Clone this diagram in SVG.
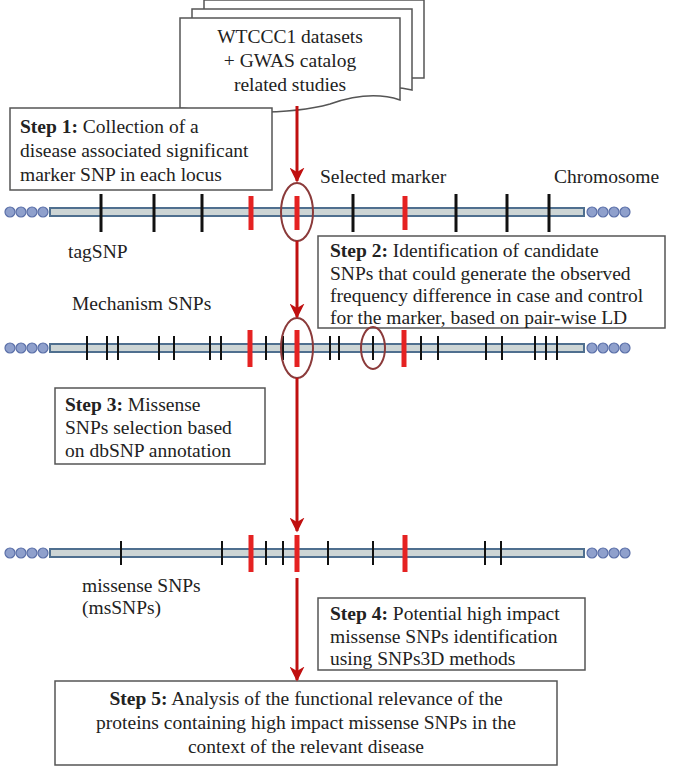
<svg xmlns="http://www.w3.org/2000/svg" width="678" height="779" viewBox="0 0 678 779" font-family="'Liberation Serif','Times New Roman','DejaVu Serif',serif">
<style>
text{font-family:"Liberation Serif","Times New Roman","DejaVu Serif",serif;font-size:19.5px;fill:#222}
.box{fill:#fff;stroke:#555;stroke-width:1.5}
.bar{fill:#cdd5d5;stroke:#4f6f8f;stroke-width:2}
.dot{fill:#8fa0cc;stroke:#5a6fa8;stroke-width:1.2}
.tk{stroke:#111;stroke-width:3}
.tks{stroke:#111;stroke-width:2}
.rd{stroke:#e52222;stroke-width:5}
.ell{fill:none;stroke:#8b3a3a;stroke-width:2}
.arr{stroke:#c01010;stroke-width:3;fill:none}
</style>
<defs>
<marker id="ah" viewBox="0 0 10 10" refX="9" refY="5" markerWidth="5" markerHeight="5" orient="auto" markerUnits="strokeWidth">
<path d="M0,0 L10,5 L0,10 L3,5 Z" fill="#c01010"/>
</marker>
<g id="dots4"><circle cx="0" cy="0" r="5" class="dot"/><circle cx="11" cy="0" r="5" class="dot"/><circle cx="22" cy="0" r="5" class="dot"/><circle cx="33" cy="0" r="5" class="dot"/></g>
</defs>
<g id="datasets">
<path class="box" d="M204,0 H424 V78 H204 Z"/>
<path class="box" d="M192,9 H412 V90 Q390,84 370,92 H192 Z"/>
<path class="box" d="M180,18 H400 V100 Q370,90 330,104 Q280,118 180,108 Z"/>
<text x="290" y="43" text-anchor="middle">WTCCC1 datasets</text>
<text x="290" y="67" text-anchor="middle">+ GWAS catalog</text>
<text x="290" y="91" text-anchor="middle">related studies</text>
</g>
<g id="step1"><rect class="box" x="10" y="108" width="262" height="82"/>
<text x="20" y="133"><tspan font-weight="bold">Step 1:</tspan> Collection of a</text>
<text x="20" y="157">disease associated significant</text>
<text x="20" y="181">marker SNP in each locus</text></g>
<g id="chr1">
<rect class="bar" x="50" y="208" width="534" height="8"/>
<use href="#dots4" x="10" y="212"/><use href="#dots4" x="592" y="212"/>
<g class="tk"><line x1="101" y1="194" x2="101" y2="232"/><line x1="154" y1="194" x2="154" y2="232"/><line x1="202" y1="194" x2="202" y2="232"/><line x1="353" y1="194" x2="353" y2="232"/><line x1="456" y1="194" x2="456" y2="232"/><line x1="507" y1="194" x2="507" y2="232"/><line x1="549" y1="194" x2="549" y2="232"/></g>
<g class="rd"><line x1="251" y1="196" x2="251" y2="230"/><line x1="297" y1="196" x2="297" y2="230"/><line x1="405" y1="196" x2="405" y2="230"/></g>
<ellipse class="ell" cx="297" cy="212" rx="16" ry="29"/>
<text x="320" y="183">Selected marker</text><text x="554" y="183">Chromosome</text>
<text x="68" y="258">tagSNP</text></g>
<g id="step2"><rect class="box" x="318" y="236" width="347" height="92"/>
<text x="330" y="257"><tspan font-weight="bold">Step 2:</tspan> Identification of candidate</text>
<text x="330" y="280">SNPs that could generate the observed</text>
<text x="330" y="302">frequency difference in case and control</text>
<text x="330" y="324">for the marker, based on pair-wise LD</text></g>
<g id="chr2">
<text x="72" y="310">Mechanism SNPs</text>
<rect class="bar" x="50" y="344" width="534" height="8"/>
<use href="#dots4" x="10" y="348"/><use href="#dots4" x="592" y="348"/>
<g class="tks"><line x1="87" y1="336" x2="87" y2="360"/><line x1="107" y1="336" x2="107" y2="360"/><line x1="118" y1="336" x2="118" y2="360"/><line x1="159" y1="336" x2="159" y2="360"/><line x1="174" y1="336" x2="174" y2="360"/><line x1="210" y1="336" x2="210" y2="360"/><line x1="221" y1="336" x2="221" y2="360"/><line x1="266" y1="336" x2="266" y2="360"/><line x1="283" y1="336" x2="283" y2="360"/><line x1="330" y1="336" x2="330" y2="360"/><line x1="339" y1="336" x2="339" y2="360"/><line x1="373" y1="336" x2="373" y2="360"/><line x1="421" y1="336" x2="421" y2="360"/><line x1="438" y1="336" x2="438" y2="360"/><line x1="486" y1="336" x2="486" y2="360"/><line x1="502" y1="336" x2="502" y2="360"/><line x1="535" y1="336" x2="535" y2="360"/><line x1="546" y1="336" x2="546" y2="360"/><line x1="557" y1="336" x2="557" y2="360"/></g>
<g class="rd"><line x1="250" y1="330" x2="250" y2="367"/><line x1="297" y1="330" x2="297" y2="367"/><line x1="404" y1="330" x2="404" y2="367"/></g>
<ellipse class="ell" cx="297" cy="348" rx="16" ry="30"/>
<ellipse class="ell" cx="373" cy="348" rx="12" ry="21"/></g>
<g id="step3"><rect class="box" x="55" y="388" width="210" height="76"/>
<text x="65" y="411"><tspan font-weight="bold">Step 3:</tspan> Missense</text>
<text x="65" y="434">SNPs selection based</text>
<text x="65" y="457">on dbSNP annotation</text></g>
<g id="chr3">
<rect class="bar" x="50" y="549" width="534" height="8"/>
<use href="#dots4" x="10" y="553"/><use href="#dots4" x="592" y="553"/>
<g class="tks"><line x1="121" y1="541" x2="121" y2="565"/><line x1="222" y1="541" x2="222" y2="565"/><line x1="266" y1="541" x2="266" y2="565"/><line x1="283" y1="541" x2="283" y2="565"/><line x1="328" y1="541" x2="328" y2="565"/><line x1="373" y1="541" x2="373" y2="565"/><line x1="485" y1="541" x2="485" y2="565"/><line x1="501" y1="541" x2="501" y2="565"/></g>
<g class="rd"><line x1="251" y1="535" x2="251" y2="572"/><line x1="297" y1="535" x2="297" y2="572"/><line x1="405" y1="535" x2="405" y2="572"/></g>
<text x="82" y="592">missense SNPs</text><text x="82" y="614">(msSNPs)</text></g>
<g id="step4"><rect class="box" x="318" y="598" width="267" height="72"/>
<text x="330" y="620"><tspan font-weight="bold">Step 4:</tspan> Potential high impact</text>
<text x="330" y="643">missense SNPs identification</text>
<text x="330" y="665">using SNPs3D methods</text></g>
<g id="step5"><rect class="box" x="55" y="681" width="502" height="84"/>
<text x="306" y="705" text-anchor="middle"><tspan font-weight="bold">Step 5:</tspan> Analysis of the functional relevance of the</text>
<text x="306" y="729" text-anchor="middle">proteins containing high impact missense SNPs in the</text>
<text x="306" y="753" text-anchor="middle">context of the relevant disease</text></g>
<g id="connectors">
<line class="arr" x1="297" y1="106" x2="297" y2="181" marker-end="url(#ah)"/>
<line class="arr" x1="297" y1="241" x2="297" y2="317" marker-end="url(#ah)"/>
<line class="arr" x1="297" y1="378" x2="297" y2="531" marker-end="url(#ah)"/>
<line class="arr" x1="297" y1="578" x2="297" y2="680" marker-end="url(#ah)"/>
</g>
</svg>
